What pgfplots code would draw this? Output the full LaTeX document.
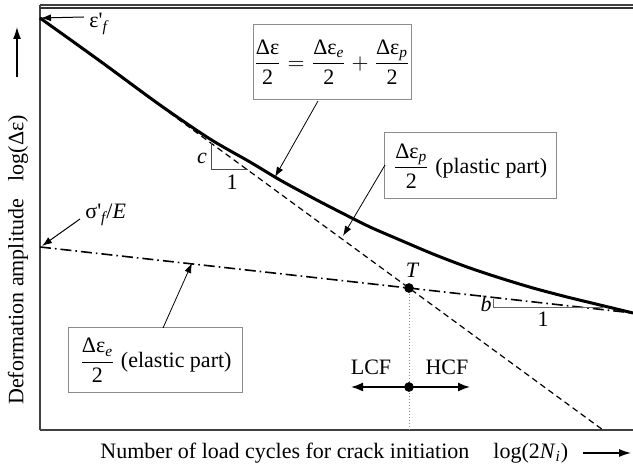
\documentclass[border=0pt]{standalone}
\usepackage{amsmath}
\usepackage{fontspec}
\setmainfont{Liberation Serif}
\usepackage{pgfplots}
\pgfplotsset{compat=1.18}
\usetikzlibrary{arrows.meta}

\begin{document}
\begin{tikzpicture}[font=\fontsize{11}{13}\selectfont]
\useasboundingbox (-20pt,-20pt) rectangle (296.5pt,215pt);
\begin{axis}[
  at={(0,0)}, anchor=south west,
  scale only axis, width=296.5pt, height=212.5pt,
  xmin=40, xmax=633, ymin=40, ymax=465,
  axis x line*=box, axis y line*=left,
  ticks=none, clip=false,
  axis line style={black!75, line width=0.8pt},
]
% total strain curve
\addplot[black, line width=1.5pt, smooth, tension=0.5] coordinates {
 (40,452) (100,409) (160,365) (210,331) (250,308) (280,290) (313,272)
 (340,258) (370,243) (400,230) (433,216) (467,203) (500,192) (533,182)
 (567,173) (600,165) (633,157)};
% plastic part
\addplot[black, line width=0.6pt, dash pattern=on 3pt off 2pt] coordinates {(40,452) (603,40)};
% elastic part
\addplot[black, line width=0.8pt, dash pattern=on 5.5pt off 2pt on 0.8pt off 2pt] coordinates {(40,223) (633,157)};
% vertical dotted line
\addplot[black!45, densely dotted, line width=0.5pt] coordinates {(409,182) (409,40)};
% dots
\addplot[only marks, mark=*, mark size=2.2pt, black] coordinates {(409,182) (409,83)};

% top frame line
\draw[black!80, line width=1pt] (axis cs:40,462) -- (axis cs:633,462);
\draw[black!75, line width=0.8pt] (axis cs:40,462) -- (axis cs:40,465);

% LCF / HCF arrows
\draw[line width=0.8pt, -{Latex[length=6pt,width=4.5pt]}] (axis cs:409,83) -- (axis cs:351,83);
\draw[line width=0.8pt, -{Latex[length=6pt,width=4.5pt]}] (axis cs:409,83) -- (axis cs:470,83);
\node at (axis cs:371,103) {LCF};
\node at (axis cs:447,103) {HCF};
\node at (axis cs:412,200) {\itshape T};

% slope triangles
\draw[black!70, line width=0.5pt] (axis cs:211,327) -- (axis cs:211,300) -- (axis cs:248,300);
\node at (axis cs:202,312) {\itshape c};
\node at (axis cs:232,288) {1};
\draw[black!60, line width=0.5pt] (axis cs:493,171) -- (axis cs:493,162) -- (axis cs:603,162);
\node at (axis cs:486,166) {\itshape b};
\node at (axis cs:543,151) {1};

% boxes
\node[draw=black!45, line width=0.5pt, minimum width=79pt, minimum height=37.5pt, inner sep=0pt]
  at (axis cs:332,408)
  {$\displaystyle\frac{\text{Δε}}{\text{2}}=\frac{\text{Δε}_{\text{\itshape e}}}{\text{2}}+\frac{\text{Δε}_{\text{\itshape p}}}{\text{2}}$};
\draw[line width=0.4pt, -{Latex[length=5pt,width=3.5pt]}] (axis cs:318,369) -- (axis cs:275,293);

\node[draw=black!45, line width=0.5pt, minimum width=86pt, minimum height=33pt, inner sep=0pt]
  at (axis cs:470,304)
  {$\displaystyle\frac{\text{Δε}_{\text{\itshape p}}}{\text{2}}$ (plastic part)};
\draw[line width=0.4pt, -{Latex[length=5pt,width=3.5pt]}] (axis cs:385,305) -- (axis cs:343,234);

\node[draw=black!45, line width=0.5pt, minimum width=86.5pt, minimum height=32.5pt, inner sep=0pt]
  at (axis cs:155.5,109.5)
  {$\displaystyle\frac{\text{Δε}_{\text{\itshape e}}}{\text{2}}$ (elastic part)};
\draw[line width=0.4pt, -{Latex[length=5pt,width=3.5pt]}] (axis cs:163,142) -- (axis cs:192,207);

% epsilon_f and sigma_f/E
\node[anchor=west, inner sep=0pt] at (axis cs:89,446) {ε\textquotesingle$_{\text{\itshape f}}$};
\draw[line width=0.5pt, -{Latex[length=5pt,width=3.5pt]}] (axis cs:84,453) -- (axis cs:41,452);
\node[anchor=west, inner sep=0pt] at (axis cs:85,255) {σ\textquotesingle$_{\text{\itshape f}}$/\textit{E}};
\draw[line width=0.5pt, -{Latex[length=5pt,width=3.5pt]}] (axis cs:80,251) -- (axis cs:42,224);

% axis labels
\node[rotate=90, inner sep=0pt] at (axis cs:18,210) {Deformation amplitude\hspace{0.8em}log(Δε)};
\draw[line width=0.6pt, -{Latex[length=6pt,width=4pt]}] (axis cs:17,393) -- (axis cs:17,443);
\node[anchor=west, inner sep=0pt] at (axis cs:100,17) {Number of load cycles for crack initiation};
\node[anchor=west, inner sep=0pt] at (axis cs:493,17) {log(2\textit{N}$_{\text{\itshape i}}$)};
\draw[line width=0.6pt, -{Latex[length=6pt,width=4pt]}] (axis cs:583,17) -- (axis cs:631,17);
\end{axis}
\end{tikzpicture}
\end{document}
